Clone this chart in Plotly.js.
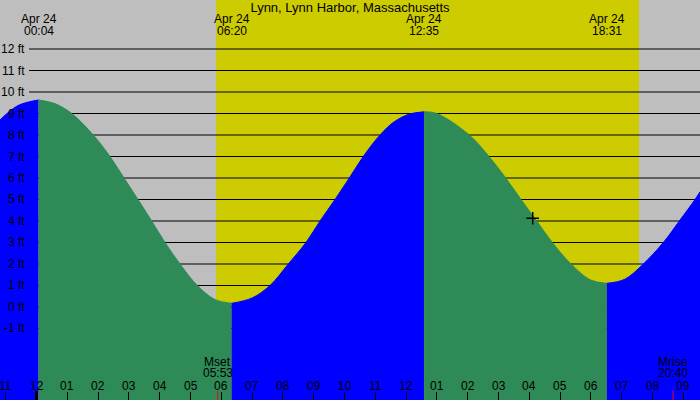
<!DOCTYPE html>
<html>
<head>
<meta charset="utf-8">
<script src="https://cdn.plot.ly/plotly-3.0.1.min.js"></script>
<style>
  html, body { margin: 0; padding: 0; background: #bebebe; }
  #chart { width: 700px; height: 400px; }
</style>
</head>
<body>
<div id="chart"></div>
<script>
// ---- data (hours after midnight, Apr 24; feet) ----
const tideHours = [-1.185, -0.6, 0.067, 0.6, 1.143, 1.844, 2.386, 2.841, 3.295, 3.740, 4.172, 4.659, 5.221, 5.8, 6.333,
                   7.0, 7.581, 8.175, 8.750, 9.205, 9.692, 10.156, 10.610, 11.153, 11.6, 12.1, 12.583,
                   12.994, 14.052, 14.692, 15.234, 15.731, 16.240, 16.747, 17.354, 18.0, 18.517,
                   19.1, 19.701, 20.351, 20.870, 21.380, 21.542];
const tideFeet  = [8.70, 9.37, 9.63, 9.46, 9.0, 8.0, 7.0, 6.0, 5.0, 4.0, 3.0, 2.0, 1.0, 0.34, 0.17,
                   0.42, 1.0, 2.0, 3.0, 4.0, 5.0, 6.0, 7.0, 8.0, 8.6, 8.97, 9.08,
                   9.0, 8.0, 7.0, 6.0, 5.0, 4.0, 3.0, 2.0, 1.25, 1.10,
                   1.29, 2.0, 3.0, 4.0, 5.0, 5.36];

const extremeHours = [0.067, 6.333, 12.583, 18.517];
const extremeDates = ["Apr 24", "Apr 24", "Apr 24", "Apr 24"];
const extremeTimes = ["00:04", "06:20", "12:35", "18:31"];

const hourTickVals = [-1,0,1,2,3,4,5,6,7,8,9,10,11,12,13,14,15,16,17,18,19,20,21];
const hourTickText = ["11","12","01","02","03","04","05","06","07","08","09","10","11",
                      "12","01","02","03","04","05","06","07","08","09"];

const feetLevels = [-1,0,1,2,3,4,5,6,7,8,9,10,11,12];
const feetLabels = ["-1 ft","0 ft","1 ft","2 ft","3 ft","4 ft","5 ft","6 ft","7 ft","8 ft","9 ft","10 ft","11 ft","12 ft"];

const sunriseHour = 5.83;
const sunsetHour = 19.56;

const moonHours = [5.883, 20.667];
const moonNames = ["Mset", "Mrise"];
const moonTimes = ["05:53", "20:40"];

const nowHour = 16.11;
const nowFeet = 4.13;

const titleText = "Lynn, Lynn Harbor, Massachusetts";

// ---- styling ----
const W = 700, H = 400;
const FONT = "Liberation Sans, Arial, sans-serif";
const GRAY = "rgb(190,190,190)";
const YELLOW = "rgb(204,204,0)";
const GREEN = "rgb(46,139,87)";
const BLUE = "rgb(0,0,255)";
const XR = [-1.185, 21.542];
const YR = [-4.326, 14.279];
const BASE = -6;

// split the tide series into rising / falling segments at the extremes
const segments = [];
let cur = {x: [], y: []};
for (let i = 0; i < tideHours.length; i++) {
  cur.x.push(tideHours[i]); cur.y.push(tideFeet[i]);
  if (extremeHours.includes(tideHours[i]) && i > 0 && i < tideHours.length - 1) {
    segments.push(cur);
    cur = {x: [tideHours[i]], y: [tideFeet[i]]};
  }
}
segments.push(cur);

const traces = [];
segments.forEach(seg => {
  const rising = seg.y[seg.y.length - 1] > seg.y[0];
  const col = rising ? BLUE : GREEN;
  traces.push({
    x: [seg.x[0], seg.x[seg.x.length - 1]], y: [BASE, BASE],
    mode: "lines", line: {width: 0, color: col}, hoverinfo: "skip", showlegend: false
  });
  traces.push({
    x: seg.x, y: seg.y, mode: "lines",
    line: {shape: "spline", smoothing: 1, width: 1, color: col},
    fill: "tonexty", fillcolor: col, hoverinfo: "skip", showlegend: false
  });
});
traces.push({
  x: [nowHour], y: [nowFeet], mode: "markers",
  marker: {symbol: "cross-thin", size: 9, line: {width: 1.5, color: "black"}, color: "black"},
  hoverinfo: "skip", showlegend: false
});

const shapes = [];
shapes.push({type: "rect", layer: "below", xref: "x", yref: "paper",
  x0: sunriseHour, x1: sunsetHour, y0: 0, y1: 1, fillcolor: YELLOW, line: {width: 0}});
feetLevels.forEach(v => {
  shapes.push({type: "line", layer: "below", xref: "paper", yref: "y",
    x0: 29 / W, x1: 1, y0: v, y1: v, line: {color: "black", width: 1.2}});
});
shapes.push({type: "line", layer: "above", xref: "x", yref: "paper",
  x0: 0, x1: 0, y0: 0, y1: 9 / H, line: {color: "black", width: 3}});
moonHours.forEach(h => {
  shapes.push({type: "line", layer: "above", xref: "x", yref: "paper",
    x0: h, x1: h, y0: 0, y1: 9 / H, line: {color: "red", width: 1}});
});

const annotations = [];
const txt = (x, xref, y, yref, text, xanchor) => ({
  x, xref, y, yref, text, showarrow: false, xanchor: xanchor || "center", yanchor: "middle",
  font: {family: FONT, size: 12, color: "black"}
});
feetLevels.forEach((v, i) => annotations.push(txt(27 / W, "paper", v, "y", feetLabels[i], "right")));
extremeHours.forEach((h, i) => {
  annotations.push(txt(h, "x", 1 - 19.5 / H, "paper", extremeDates[i]));
  annotations.push(txt(h, "x", 1 - 31 / H, "paper", extremeTimes[i]));
});
moonHours.forEach((h, i) => {
  annotations.push(txt(h, "x", 1 - 361.5 / H, "paper", moonNames[i]));
  annotations.push(txt(h, "x", 1 - 372.5 / H, "paper", moonTimes[i]));
});
hourTickVals.forEach((h, i) => annotations.push(txt(h, "x", 1 - 385.5 / H, "paper", hourTickText[i])));

const layout = {
  width: W, height: H,
  margin: {l: 0, r: 0, t: 0, b: 0, pad: 0},
  paper_bgcolor: GRAY, plot_bgcolor: GRAY,
  title: {text: titleText, font: {family: FONT, size: 13, color: "black"},
    x: 0.5, xanchor: "center", xref: "paper", y: 1 - 7.5 / H, yanchor: "middle", yref: "container"},
  xaxis: {range: XR, showgrid: false, zeroline: false, showline: false,
    tickvals: hourTickVals, showticklabels: false, ticks: "inside", ticklen: 8, tickwidth: 1,
    tickcolor: "black", fixedrange: true},
  yaxis: {range: YR, showgrid: false, zeroline: false, showline: false, showticklabels: false,
    ticks: "", fixedrange: true},
  shapes, annotations,
  hovermode: false, showlegend: false
};

Plotly.newPlot("chart", traces, layout, {staticPlot: true, displayModeBar: false});
</script>
</body>
</html>
